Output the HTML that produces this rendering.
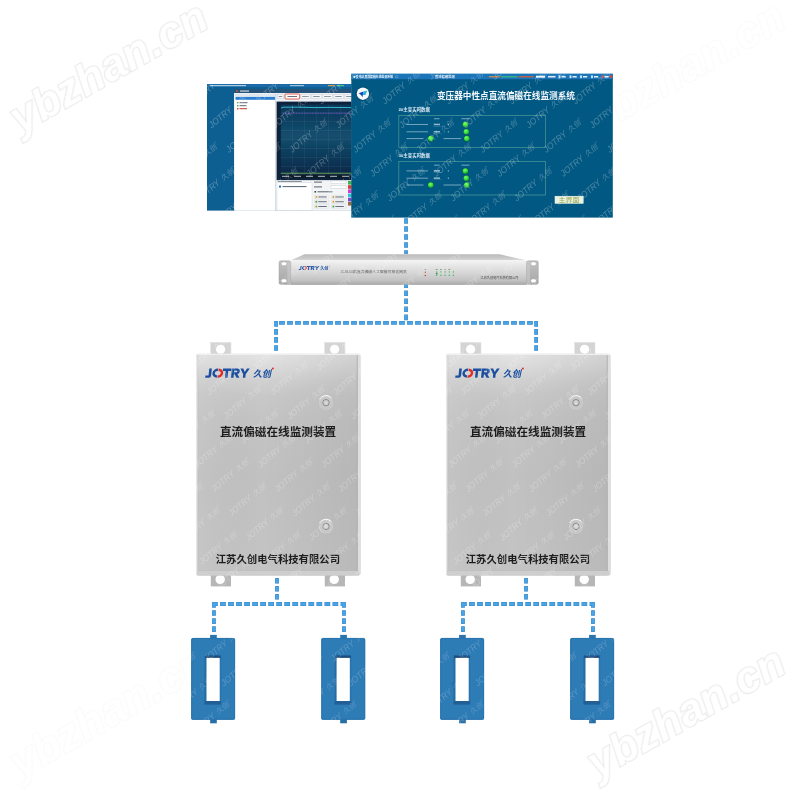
<!DOCTYPE html>
<html lang="zh-CN"><head><meta charset="utf-8"><title>直流偏磁在线监测系统</title>
<style>
html,body{margin:0;padding:0;background:#fff;}
body{width:800px;height:800px;overflow:hidden;font-family:"Liberation Sans","Noto Sans CJK SC",sans-serif;}
svg{display:block;font-family:"Liberation Sans","Noto Sans CJK SC",sans-serif;}
</style></head><body>
<svg width="800" height="800" viewBox="0 0 800 800">
<defs>

<linearGradient id="gCab" x1="0" y1="0" x2="0" y2="1">
  <stop offset="0" stop-color="#dedede"/>
  <stop offset="0.05" stop-color="#d8d8d8"/>
  <stop offset="0.12" stop-color="#cecece"/>
  <stop offset="0.19" stop-color="#c8c8c8"/>
  <stop offset="0.30" stop-color="#c4c4c4"/>
  <stop offset="0.55" stop-color="#c1c1c1"/>
  <stop offset="1" stop-color="#c4c4c4"/>
</linearGradient>
<linearGradient id="gCabSh" x1="0" y1="0" x2="1" y2="0">
  <stop offset="0" stop-color="#fff" stop-opacity="0.05"/>
  <stop offset="0.4" stop-color="#000" stop-opacity="0"/>
  <stop offset="1" stop-color="#000" stop-opacity="0.055"/>
</linearGradient>
<radialGradient id="gCabHi" cx="0.38" cy="0.0" r="0.6" gradientTransform="scale(1 .32)">
  <stop offset="0" stop-color="#fff" stop-opacity="0.18"/>
  <stop offset="1" stop-color="#fff" stop-opacity="0"/>
</radialGradient>
<linearGradient id="gRackF" x1="0" y1="0" x2="0" y2="1">
  <stop offset="0" stop-color="#f3f3f3"/>
  <stop offset="0.2" stop-color="#e7e7e7"/>
  <stop offset="0.5" stop-color="#d7d7d7"/>
  <stop offset="0.82" stop-color="#c3c3c3"/>
  <stop offset="1" stop-color="#a9a9a9"/>
</linearGradient>
<linearGradient id="gRackT" x1="0" y1="0" x2="0" y2="1">
  <stop offset="0" stop-color="#b9b9b9"/>
  <stop offset="1" stop-color="#d6d6d6"/>
</linearGradient>
<linearGradient id="gEar" x1="0" y1="0" x2="0" y2="1">
  <stop offset="0" stop-color="#c0c0c0"/>
  <stop offset="0.5" stop-color="#b4b4b4"/>
  <stop offset="1" stop-color="#a6a6a6"/>
</linearGradient>
<linearGradient id="gChart" x1="0" y1="0" x2="0" y2="1">
  <stop offset="0" stop-color="#0b3557"/>
  <stop offset="0.45" stop-color="#134e6e"/>
  <stop offset="1" stop-color="#0a2747"/>
</linearGradient>
<radialGradient id="gLed" cx="0.4" cy="0.35" r="0.7">
  <stop offset="0" stop-color="#7dff6a"/>
  <stop offset="0.6" stop-color="#2fd63a"/>
  <stop offset="1" stop-color="#18a030"/>
</radialGradient>
<radialGradient id="gLock" cx="0.5" cy="0.5" r="0.5">
  <stop offset="0" stop-color="#bdbdbd"/>
  <stop offset="0.5" stop-color="#d6d6d6"/>
  <stop offset="1" stop-color="#b4b4b4"/>
</radialGradient>
<filter id="softAll" x="0" y="0" width="800" height="800" filterUnits="userSpaceOnUse"><feGaussianBlur stdDeviation="0.42"/></filter>
<filter id="softLine" x="0" y="0" width="800" height="800" filterUnits="userSpaceOnUse"><feGaussianBlur stdDeviation="0.28"/></filter>
<filter id="soft" x="-5%" y="-5%" width="110%" height="110%"><feGaussianBlur stdDeviation="0.35"/></filter>
<filter id="soft2" x="-5%" y="-5%" width="110%" height="110%"><feGaussianBlur stdDeviation="0.55"/></filter>
<g id="logoL" transform="skewX(-6)">
  <path fill="#1b4fa0" d="M3.1 -9.2H5.7V-2.2Q5.7 0 3.6 0H0V-2.3H2.6Q3.1 -2.3 3.1 -2.9Z"/>
  <path d="M12.0 -8.0 A3.9 3.4 0 0 0 11.6 -1.2" fill="none" stroke="#1b4fa0" stroke-width="2.4"/>
  <path d="M12.6 -8.0 A3.9 3.4 0 0 1 12.2 -1.2" fill="none" stroke="#df2f2a" stroke-width="2.4"/>
  <path fill="#1b4fa0" d="M16.9 -9.2H25.3V-6.9H22.3V0H19.8V-6.9H16.9Z"/>
  <path fill="#1b4fa0" fill-rule="evenodd" d="M25.8 -9.2H31Q33.9 -9.2 33.9 -6.4Q33.9 -4.3 31.8 -3.7L34.2 0H31.3L29.3 -3.4H28.3V0H25.8ZM28.3 -7.1V-5.5H30.5Q31.4 -5.5 31.4 -6.3Q31.4 -7.1 30.5 -7.1Z"/>
  <path fill="#1b4fa0" d="M34.2 -9.2H37.1L38.9 -5.8L40.8 -9.2H43.6L40.1 -3.6V0H37.6V-3.6Z"/>
</g>

<g id="wm" transform="rotate(-40)"><text x="0" y="0" font-size="9.0" font-weight="400" font-style="italic" textLength="27.5" lengthAdjust="spacingAndGlyphs">JOTRY</text><text transform="translate(31.2 -0.2) skewX(-12)" x="0" y="0" font-size="7.2" font-family="'Liberation Sans','Noto Sans CJK SC',sans-serif" textLength="14.4" lengthAdjust="spacingAndGlyphs">久创</text><circle cx="47.4" cy="-5.8" r=".55"/></g>
<clipPath id="cpScr"><rect x="207" y="84" width="144.5" height="126.6"/><rect x="351.3" y="73.8" width="261.5" height="143.8"/></clipPath>
<clipPath id="cpSen"><rect x="191" y="634" width="44.5" height="90"/><rect x="321" y="634" width="44.5" height="90"/><rect x="440" y="634" width="44.5" height="90"/><rect x="570" y="634" width="44.5" height="90"/></clipPath>
<clipPath id="cpCab"><rect x="279" y="254" width="259.4" height="31"/><rect x="196" y="342" width="164.5" height="245"/><rect x="446" y="342" width="164.5" height="245"/></clipPath>
</defs>
<rect width="800" height="800" fill="#fff"/>
<g filter="url(#softAll)">
<text transform="translate(109 68) rotate(-29.5)" x="0" y="14" text-anchor="middle" font-size="44" font-weight="700" font-style="italic" fill="#fff" stroke="#eaeaea" stroke-width="2.2" paint-order="stroke" letter-spacing="0.5" filter="url(#soft2)">ybzhan.cn</text>
<text transform="translate(686.5 713) rotate(-29.5)" x="0" y="14" text-anchor="middle" font-size="44" font-weight="700" font-style="italic" fill="#fff" stroke="#eaeaea" stroke-width="2.2" paint-order="stroke" letter-spacing="0.5" filter="url(#soft2)">ybzhan.cn</text>
<text transform="translate(686.5 68) rotate(-29.5)" x="0" y="14" text-anchor="middle" font-size="44" font-weight="700" font-style="italic" fill="#fff" stroke="#fafafa" stroke-width="2.2" paint-order="stroke" letter-spacing="0.5" filter="url(#soft2)">ybzhan.cn</text>
<text transform="translate(109 713) rotate(-29.5)" x="0" y="14" text-anchor="middle" font-size="44" font-weight="700" font-style="italic" fill="#fff" stroke="#fafafa" stroke-width="2.2" paint-order="stroke" letter-spacing="0.5" filter="url(#soft2)">ybzhan.cn</text>
<g id="screenL">
<rect x="207.0" y="84.0" width="144.5" height="126.6" fill="#0f5f91"/>
<rect x="207.0" y="84.0" width="144.5" height="3.2" fill="#1a6ba6"/>
<rect x="210" y="85" width="36" height="1.2" fill="#cfe4f3" opacity=".8"/>
<rect x="290" y="85" width="14" height="1.2" fill="#cfe4f3" opacity=".7"/>
<rect x="328" y="85" width="7" height="1.2" fill="#e8a23a" opacity=".9"/><rect x="337" y="85" width="7" height="1.2" fill="#4fd07a" opacity=".9"/>
<rect x="234" y="89" width="117.5" height="121.6" fill="#eef1f4"/>
<rect x="234" y="89" width="117.5" height="4" fill="#28527a"/>
<rect x="236" y="90.3" width="1.6" height="1.6" fill="#e2552d"/><rect x="240" y="90.5" width="9" height="1.1" fill="#d9dde3"/>
<rect x="235" y="93.6" width="40.3" height="117.0" fill="#ffffff"/>
<rect x="235" y="93.6" width="40.3" height="2.6" fill="#dfe6ee"/>
<rect x="235.5" y="96.8" width="39.5" height="3" fill="#2b7fd0"/>
<rect x="237" y="102" width="1.4" height="1.4" fill="#3aa34a"/><rect x="239.5" y="102.2" width="8" height="1" fill="#667"/>
<rect x="237" y="105" width="1.4" height="1.4" fill="#3aa34a"/><rect x="239.5" y="105.2" width="7" height="1" fill="#667"/>
<rect x="237" y="108" width="1.4" height="1.4" fill="#d23a2e"/><rect x="239.5" y="108.2" width="7.5" height="1" fill="#c0392b"/>
<rect x="275.3" y="93.6" width="0.7" height="117.0" fill="#c9d1da"/>
<rect x="276" y="93.6" width="75.5" height="5.6" fill="#e4e8ee"/>
<rect x="277.5" y="94.6" width="6" height="3.8" fill="#f6f7f9" stroke="#b9c2cc" stroke-width=".3"/>
<rect x="278.7" y="96.1" width="3.5" height=".9" fill="#7b8794"/>
<rect x="285.5" y="94.6" width="9.5" height="3.8" fill="#f6f7f9" stroke="#b9c2cc" stroke-width=".3"/>
<rect x="286.7" y="96.1" width="6.5" height=".9" fill="#7b8794"/>
<rect x="301" y="94.6" width="9.5" height="3.8" fill="#f6f7f9" stroke="#b9c2cc" stroke-width=".3"/>
<rect x="302.2" y="96.1" width="6.5" height=".9" fill="#7b8794"/>
<rect x="312" y="94.6" width="9.5" height="3.8" fill="#f6f7f9" stroke="#b9c2cc" stroke-width=".3"/>
<rect x="313.2" y="96.1" width="6.5" height=".9" fill="#7b8794"/>
<rect x="323" y="94.6" width="9.5" height="3.8" fill="#f6f7f9" stroke="#b9c2cc" stroke-width=".3"/>
<rect x="324.2" y="96.1" width="6.5" height=".9" fill="#7b8794"/>
<rect x="334" y="94.6" width="9.5" height="3.8" fill="#f6f7f9" stroke="#b9c2cc" stroke-width=".3"/>
<rect x="335.2" y="96.1" width="6.5" height=".9" fill="#7b8794"/>
<rect x="345" y="94.6" width="9.5" height="3.8" fill="#f6f7f9" stroke="#b9c2cc" stroke-width=".3"/>
<rect x="346.2" y="96.1" width="6.5" height=".9" fill="#7b8794"/>
<rect x="285" y="94" width="14.6" height="5" rx="1" fill="#fff" stroke="#e03a2a" stroke-width=".8"/>
<rect x="287.5" y="96.1" width="9.5" height=".9" fill="#56616d"/>
<rect x="276.6" y="101.6" width="74.89999999999998" height="78.6" fill="#10243c"/>
<rect x="280.8" y="104.6" width="70.69999999999999" height="70" fill="url(#gChart)"/>
<rect x="280.8" y="112" width="70.69999999999999" height=".35" fill="#7fb0c8" opacity=".28"/>
<rect x="280.8" y="121" width="70.69999999999999" height=".35" fill="#7fb0c8" opacity=".28"/>
<rect x="280.8" y="130" width="70.69999999999999" height=".35" fill="#7fb0c8" opacity=".28"/>
<rect x="280.8" y="139" width="70.69999999999999" height=".35" fill="#7fb0c8" opacity=".28"/>
<rect x="280.8" y="148" width="70.69999999999999" height=".35" fill="#7fb0c8" opacity=".28"/>
<rect x="280.8" y="157" width="70.69999999999999" height=".35" fill="#7fb0c8" opacity=".28"/>
<rect x="280.8" y="166" width="70.69999999999999" height=".35" fill="#7fb0c8" opacity=".28"/>
<rect x="292" y="104.6" width=".35" height="70" fill="#7fb0c8" opacity=".25"/>
<rect x="304" y="104.6" width=".35" height="70" fill="#7fb0c8" opacity=".25"/>
<rect x="316" y="104.6" width=".35" height="70" fill="#7fb0c8" opacity=".25"/>
<rect x="328" y="104.6" width=".35" height="70" fill="#7fb0c8" opacity=".25"/>
<rect x="340" y="104.6" width=".35" height="70" fill="#7fb0c8" opacity=".25"/>
<path d="M281 108.2 L283 107.2 L300 107.2 L315 107.6 L330 107.4 L351.5 107.6" fill="none" stroke="#37c6d8" stroke-width=".9"/>
<path d="M283 113.3 H351.5" fill="none" stroke="#8e5bd6" stroke-width=".8" stroke-dasharray="1 .6"/>
<rect x="280.8" y="172.6" width="70.69999999999999" height="1.6" fill="#5b9a55" opacity=".75"/>
<rect x="280.8" y="174.6" width="70.69999999999999" height="3.6" fill="#0e1a2a"/>
<rect x="282" y="175.8" width="7" height="1.1" fill="#b9c6d2" opacity=".85"/>
<rect x="294" y="175.8" width="7" height="1.1" fill="#b9c6d2" opacity=".85"/>
<rect x="306" y="175.8" width="7" height="1.1" fill="#b9c6d2" opacity=".85"/>
<rect x="318" y="175.8" width="7" height="1.1" fill="#b9c6d2" opacity=".85"/>
<rect x="330" y="175.8" width="7" height="1.1" fill="#b9c6d2" opacity=".85"/>
<rect x="342" y="175.8" width="7" height="1.1" fill="#b9c6d2" opacity=".85"/>
<rect x="276.6" y="180.6" width="74.89999999999998" height="30.0" fill="#f2f4f6"/>
<rect x="277" y="182.8" width="35" height="27.400000000000006" fill="#fff" stroke="#c6ccd4" stroke-width=".4"/>
<rect x="277.6" y="181" width="24" height=".9" fill="#7c8794"/>
<rect x="279" y="185.6" width="2" height="2" fill="#2b6fb8"/><rect x="282.5" y="186.1" width="24" height="1" fill="#56616d"/>
<rect x="314" y="181.6" width="8" height="1" fill="#56616d"/><rect x="331" y="181" width="15" height="2.4" fill="#fff" stroke="#aab3bd" stroke-width=".3"/>
<rect x="314" y="186.4" width="8" height="1" fill="#56616d"/><rect x="331" y="185.8" width="15" height="2.4" fill="#fff" stroke="#aab3bd" stroke-width=".3"/>
<rect x="314.5" y="191" width="1.6" height="1.6" fill="#444"/><rect x="317.5" y="191.3" width="15" height="1" fill="#56616d"/>
<rect x="314.5" y="195.2" width="14.5" height="3.4" rx=".5" fill="#f3f4f5" stroke="#c4c9cf" stroke-width=".3"/>
<rect x="315.5" y="196.1" width="1.7" height="1.7" fill="#e0a020"/>
<rect x="318.3" y="196.5" width="8.5" height=".9" fill="#56616d"/>
<rect x="331.5" y="195.2" width="14.5" height="3.4" rx=".5" fill="#f3f4f5" stroke="#c4c9cf" stroke-width=".3"/>
<rect x="332.5" y="196.1" width="1.7" height="1.7" fill="#c8a030"/>
<rect x="335.3" y="196.5" width="8.5" height=".9" fill="#56616d"/>
<rect x="314.5" y="200" width="14.5" height="3.4" rx=".5" fill="#f3f4f5" stroke="#c4c9cf" stroke-width=".3"/>
<rect x="315.5" y="200.9" width="1.7" height="1.7" fill="#4a9a40"/>
<rect x="318.3" y="201.3" width="8.5" height=".9" fill="#56616d"/>
<rect x="331.5" y="200" width="14.5" height="3.4" rx=".5" fill="#f3f4f5" stroke="#c4c9cf" stroke-width=".3"/>
<rect x="332.5" y="200.9" width="1.7" height="1.7" fill="#e0a020"/>
<rect x="335.3" y="201.3" width="8.5" height=".9" fill="#56616d"/>
<rect x="314.5" y="204.8" width="14.5" height="3.4" rx=".5" fill="#f3f4f5" stroke="#c4c9cf" stroke-width=".3"/>
<rect x="315.5" y="205.70000000000002" width="1.7" height="1.7" fill="#88b030"/>
<rect x="318.3" y="206.10000000000002" width="8.5" height=".9" fill="#56616d"/>
<rect x="331.5" y="204.8" width="14.5" height="3.4" rx=".5" fill="#f3f4f5" stroke="#c4c9cf" stroke-width=".3"/>
<rect x="332.5" y="205.70000000000002" width="1.7" height="1.7" fill="#3aa34a"/>
<rect x="335.3" y="206.10000000000002" width="8.5" height=".9" fill="#56616d"/>
<rect x="348" y="181.0" width="3.5" height="3.6" fill="#3cb54a"/>
<rect x="348" y="185.2" width="3.5" height="3.6" fill="#d83a2e"/>
<rect x="348" y="189.4" width="3.5" height="3.6" fill="#d63ad0"/>
<rect x="348" y="193.6" width="3.5" height="3.6" fill="#2ec4d6"/>
<rect x="348" y="197.8" width="3.5" height="3.6" fill="#7a4ad0"/>
<rect x="348" y="202.0" width="3.5" height="3.6" fill="#9a6a3a"/>
</g>
<g id="screenR">
<rect x="351.3" y="73.8" width="261.49999999999994" height="143.8" fill="#045983"/>
<rect x="351.3" y="73.8" width="261.49999999999994" height="5.6" fill="#1c74b8"/>
<rect x="351.3" y="79.39999999999999" width="261.49999999999994" height=".5" fill="#0a4468" opacity=".5"/>
<circle cx="354.4" cy="76.8" r="1.1" fill="#dff"/>
<text x="355.8" y="77.9" font-size="2.86" font-weight="700" fill="#f4fafe" textLength="37.2" lengthAdjust="spacingAndGlyphs" font-family="'Liberation Sans','Noto Sans CJK SC',sans-serif">变电站直流偏磁在线监测系统</text>
<circle cx="396.6" cy="76.7" r="1.3" fill="none" stroke="#9fd0ee" stroke-width=".4"/>
<text x="435.0" y="78.1" font-size="3.3" font-weight="700" fill="#eaf4fb" textLength="19.8" lengthAdjust="spacingAndGlyphs" font-family="'Liberation Sans','Noto Sans CJK SC',sans-serif">直流偏磁监测</text>
<rect x="489" y="76.0" width="10.5" height="1.5" fill="#e08a3a" opacity=".85"/><rect x="500.5" y="76.0" width="17" height="1.5" fill="#3fbf78" opacity=".8"/><rect x="518.5" y="76.0" width="15" height="1.5" fill="#d2603a" opacity=".85"/>
<rect x="536" y="75.7" width="9" height="2" fill="#f3f8fc"/><rect x="548" y="75.9" width="7.5" height="1.6" fill="#dbeaf5"/>
<rect x="558.5" y="75.2" width="2" height="3" rx=".7" fill="#bfe6ff"/>
<rect x="561.5" y="76" width="4.2" height="1.5" fill="#e6f2fa"/>
<rect x="569.5" y="75.2" width="2" height="3" rx=".7" fill="#bfe6ff"/>
<rect x="572.5" y="76" width="4.2" height="1.5" fill="#e6f2fa"/>
<rect x="580" y="75.2" width="2" height="3" rx=".7" fill="#bfe6ff"/>
<rect x="583" y="76" width="4.2" height="1.5" fill="#e6f2fa"/>
<rect x="591" y="75.2" width="2" height="3" rx=".7" fill="#bfe6ff"/>
<rect x="594" y="76" width="4.2" height="1.5" fill="#e6f2fa"/>
<rect x="601.5" y="75.2" width="2" height="3" rx=".7" fill="#e25b4a"/>
<rect x="604.5" y="76" width="4.2" height="1.5" fill="#e6f2fa"/>
<rect x="609.8" y="75.3" width="2.4" height="2.6" fill="#d94a3a"/>
<circle cx="362.9" cy="93.8" r="7.0" fill="#063a5c" opacity=".55"/>
<circle cx="362.9" cy="93.7" r="6.2" fill="#f7fafc"/>
<path d="M358.7 93.2 L363.4 91.6 L362.5 97.2 L361.0 94.9 Z" fill="#1446b4"/><path d="M363.4 91.6 L367.2 90.4 L365.6 95.0 L362.8 95.0 Z" fill="#2fb2d6"/>
<text transform="translate(437.00 98.50) scale(1 1.12)" x="0" y="0" font-size="8.62" font-weight="700" fill="#f1f7fb" textLength="137.9" lengthAdjust="spacingAndGlyphs" font-family="'Liberation Sans','Noto Sans CJK SC',sans-serif">变压器中性点直流偏磁在线监测系统</text>
<text x="398.4" y="111.2" font-size="4.4" font-weight="700" fill="#dbeaf3" textLength="31.6" lengthAdjust="spacingAndGlyphs" font-family="'Liberation Sans','Noto Sans CJK SC',sans-serif">2#主变实时数据</text>
<text x="398.4" y="157.2" font-size="4.4" font-weight="700" fill="#dbeaf3" textLength="31.6" lengthAdjust="spacingAndGlyphs" font-family="'Liberation Sans','Noto Sans CJK SC',sans-serif">3#主变实时数据</text>
<rect x="398.8" y="115.6" width="146.8" height="31.8" fill="none" stroke="#4b9a96" stroke-width=".7"/>
<rect x="398.8" y="161.4" width="146.8" height="33.6" fill="none" stroke="#4b9a96" stroke-width=".7"/>
<g opacity=".6"><rect x="434" y="118.3" width="5.5" height=".9" fill="#d5e6f0"/><rect x="461.5" y="118.3" width="8" height=".9" fill="#d5e6f0"/>
<rect x="406.5" y="124.05" width="21.5" height=".9" fill="#cfe2ee"/>
<rect x="433.8" y="123.7" width="6.2" height="1.5" fill="#eef6fb"/><rect x="433.5" y="126.0" width="8" height=".3" fill="#a8c8da"/>
<rect x="447.8" y="123.9" width="1.2" height="1.2" fill="#dcebf4"/>
<rect x="406.5" y="131.35" width="21.5" height=".9" fill="#cfe2ee"/>
<rect x="433.8" y="130.99999999999997" width="6.2" height="1.5" fill="#eef6fb"/><rect x="433.5" y="133.29999999999998" width="8" height=".3" fill="#a8c8da"/>
<rect x="447.8" y="131.2" width="1.2" height="1.2" fill="#dcebf4"/>
<rect x="406.5" y="138.15" width="17" height=".9" fill="#cfe2ee"/>
<rect x="443.5" y="138.15" width="17.5" height=".9" fill="#cfe2ee"/></g>
<circle cx="465.4" cy="124.5" r="3.25" fill="#0d4a3a" opacity=".55"/><circle cx="465.4" cy="124.5" r="2.75" fill="url(#gLed)"/>
<circle cx="466.29999999999995" cy="131.79999999999998" r="3.25" fill="#0d4a3a" opacity=".55"/><circle cx="466.29999999999995" cy="131.79999999999998" r="2.75" fill="url(#gLed)"/>
<circle cx="430.8" cy="138.6" r="3.25" fill="#0d4a3a" opacity=".55"/><circle cx="430.8" cy="138.6" r="2.75" fill="url(#gLed)"/>
<circle cx="466.8" cy="138.6" r="3.25" fill="#0d4a3a" opacity=".55"/><circle cx="466.8" cy="138.6" r="2.75" fill="url(#gLed)"/>
<g opacity=".6"><rect x="434" y="164.7" width="5.5" height=".9" fill="#d5e6f0"/><rect x="461.5" y="164.7" width="8" height=".9" fill="#d5e6f0"/>
<rect x="406.5" y="170.45000000000002" width="21.5" height=".9" fill="#cfe2ee"/>
<rect x="433.8" y="170.1" width="6.2" height="1.5" fill="#eef6fb"/><rect x="433.5" y="172.4" width="8" height=".3" fill="#a8c8da"/>
<rect x="447.8" y="170.3" width="1.2" height="1.2" fill="#dcebf4"/>
<rect x="406.5" y="177.75" width="21.5" height=".9" fill="#cfe2ee"/>
<rect x="433.8" y="177.39999999999998" width="6.2" height="1.5" fill="#eef6fb"/><rect x="433.5" y="179.7" width="8" height=".3" fill="#a8c8da"/>
<rect x="447.8" y="177.6" width="1.2" height="1.2" fill="#dcebf4"/>
<rect x="406.5" y="184.55" width="17" height=".9" fill="#cfe2ee"/>
<rect x="443.5" y="184.55" width="17.5" height=".9" fill="#cfe2ee"/></g>
<circle cx="465.4" cy="170.9" r="3.25" fill="#0d4a3a" opacity=".55"/><circle cx="465.4" cy="170.9" r="2.75" fill="url(#gLed)"/>
<circle cx="466.29999999999995" cy="178.2" r="3.25" fill="#0d4a3a" opacity=".55"/><circle cx="466.29999999999995" cy="178.2" r="2.75" fill="url(#gLed)"/>
<circle cx="430.8" cy="185.0" r="3.25" fill="#0d4a3a" opacity=".55"/><circle cx="430.8" cy="185.0" r="2.75" fill="url(#gLed)"/>
<circle cx="466.8" cy="185.0" r="3.25" fill="#0d4a3a" opacity=".55"/><circle cx="466.8" cy="185.0" r="2.75" fill="url(#gLed)"/>
<rect x="555" y="196.2" width="28.2" height="7.2" fill="#e9f1df" stroke="#f8fbf4" stroke-width=".5"/>
<text x="558.6" y="202.3" font-size="6.2" fill="#96a850" textLength="21.0" lengthAdjust="spacingAndGlyphs" font-family="'Liberation Sans','Noto Sans CJK SC',sans-serif">主界面</text>
</g>
<g id="rack">
<path d="M304.5 254.2 L499.5 254.2 L526.8 260.6 L290.4 260.6 Z" fill="url(#gRackT)"/>
<rect x="290.4" y="260.4" width="236.4" height="24.2" fill="url(#gRackF)"/>
<rect x="290.4" y="260.4" width="236.4" height=".8" fill="#f4f4f4"/>
<rect x="290.4" y="283.8" width="236.4" height="0.9" fill="#a8a8a8"/>
<rect x="279.0" y="260.8" width="11.7" height="23.6" rx="1.7" fill="url(#gEar)" stroke="#a4a4a4" stroke-width=".5"/>
<rect x="287.2" y="261.4" width="3.2" height="22.4" fill="#cccccc" opacity=".6"/>
<ellipse cx="284.0" cy="263.75" rx="2.85" ry="2.0" fill="#fff" stroke="#9e9e9e" stroke-width=".45"/>
<ellipse cx="284.0" cy="280.8" rx="2.85" ry="2.0" fill="#fff" stroke="#9e9e9e" stroke-width=".45"/>
<rect x="526.6" y="260.8" width="11.7" height="23.6" rx="1.7" fill="url(#gEar)" stroke="#a4a4a4" stroke-width=".5"/>
<rect x="526.9" y="261.4" width="3.2" height="22.4" fill="#cccccc" opacity=".6"/>
<ellipse cx="533.5" cy="263.75" rx="2.85" ry="2.0" fill="#fff" stroke="#9e9e9e" stroke-width=".45"/>
<ellipse cx="533.5" cy="280.8" rx="2.85" ry="2.0" fill="#fff" stroke="#9e9e9e" stroke-width=".45"/>
<use href="#logoL" transform="translate(298.6 269.9) scale(0.465 0.42)" opacity=".9"/>
<text x="320.2" y="269.7" font-size="4.1" font-weight="700" fill="#1f57a8" textLength="8.2" lengthAdjust="spacingAndGlyphs" font-family="'Liberation Sans','Noto Sans CJK SC',sans-serif">久创</text>
<circle cx="329.4" cy="266.1" r=".45" fill="#df2f2a"/>
<text x="340.8" y="273.3" font-size="2.6" fill="#666" letter-spacing=".1">JC-ML1000</text>
<text x="353.2" y="273.35" font-size="3.0" fill="#5a5a5a" textLength="53.7" lengthAdjust="spacingAndGlyphs" font-family="'Liberation Sans','Noto Sans CJK SC',sans-serif">抗直流偏磁人工智能可视化网关</text>
<circle cx="425.3" cy="272.3" r=".75" fill="#d8402e"/>
<circle cx="425.3" cy="275.6" r=".75" fill="#d8402e"/>
<rect x="424.6" y="269.3" width="1.6" height=".7" fill="#777"/>
<rect x="435.70000000000005" y="269.2" width="1.9" height=".7" fill="#6a8a6a"/>
<circle cx="436.6" cy="271.9" r=".7" fill="#3bb85a"/>
<circle cx="436.6" cy="275.3" r=".7" fill="#3bb85a"/>
<rect x="440.0" y="269.2" width="1.9" height=".7" fill="#6a8a6a"/>
<circle cx="440.9" cy="271.9" r=".7" fill="#3bb85a"/>
<circle cx="440.9" cy="275.3" r=".7" fill="#3bb85a"/>
<rect x="444.20000000000005" y="269.2" width="1.9" height=".7" fill="#6a8a6a"/>
<circle cx="445.1" cy="271.9" r=".7" fill="#3bb85a"/>
<circle cx="445.1" cy="275.3" r=".7" fill="#3bb85a"/>
<rect x="448.3" y="269.2" width="1.9" height=".7" fill="#6a8a6a"/>
<circle cx="449.2" cy="271.9" r=".7" fill="#3bb85a"/>
<circle cx="449.2" cy="275.3" r=".7" fill="#3bb85a"/>
<circle cx="453.4" cy="271.9" r=".7" fill="#3bb85a"/>
<circle cx="453.4" cy="275.3" r=".7" fill="#3bb85a"/>
<rect x="435.9" y="272.9" width="1.6" height="1.4" fill="#2f8a44"/>
<text x="480.6" y="278.6" font-size="3.15" fill="#444" textLength="37.8" lengthAdjust="spacingAndGlyphs" font-family="'Liberation Sans','Noto Sans CJK SC',sans-serif">江苏久创电气科技有限公司</text>
</g>
<g>
<rect x="210.6" y="342.3" width="20.4" height="13" fill="#d4d4d4" stroke="#e4e4e4" stroke-width=".6"/>
<circle cx="220.6" cy="349.3" r="4.6" fill="#fff"/>
<rect x="210.79999999999998" y="574" width="20.2" height="12.4" fill="#b6b6b6"/>
<circle cx="220.2" cy="579.4" r="4.7" fill="#fff"/>
<rect x="324.6" y="342.3" width="20.4" height="13" fill="#d4d4d4" stroke="#e4e4e4" stroke-width=".6"/>
<circle cx="334.6" cy="349.3" r="4.6" fill="#fff"/>
<rect x="324.8" y="574" width="20.2" height="12.4" fill="#b6b6b6"/>
<circle cx="334.20000000000005" cy="579.4" r="4.7" fill="#fff"/>
<rect x="196.0" y="353.7" width="164.39999999999998" height="221.7" rx="2" fill="url(#gCab)"/>
<rect x="196.0" y="353.7" width="164.39999999999998" height="221.7" rx="2" fill="url(#gCabHi)"/>
<rect x="196.0" y="353.7" width="164.39999999999998" height="221.7" rx="2" fill="url(#gCabSh)"/>
<rect x="196.0" y="354.7" width="1.6" height="219.7" fill="#e9e9e9" opacity=".9"/>
<rect x="197.6" y="354.7" width=".7" height="219.7" fill="#b5b5b5" opacity=".55"/>
<rect x="357.4" y="355.2" width="3.0" height="219.2" fill="#dedede"/>
<rect x="356.79999999999995" y="355.2" width=".8" height="219.2" fill="#a4a4a4" opacity=".9"/>
<rect x="196.0" y="353.7" width="164.39999999999998" height="1.3" rx=".6" fill="#efefef"/>
<rect x="197.0" y="570.4" width="162.39999999999998" height=".7" fill="#b4b4b4" opacity=".35"/>
<rect x="197.0" y="570.9" width="162.39999999999998" height="4.5" rx="1" fill="#cecece"/>
<circle cx="326.0" cy="402.7" r="7.5" fill="#cdcdcd" stroke="#b4b4b4" stroke-width=".6" stroke-opacity=".7"/>
<circle cx="326.0" cy="403.0" r="5.4" fill="#c9c9c9" stroke="#bcbcbc" stroke-width=".5"/>
<path d="M319.80 399.00 A7.1 7.1 0 0 1 331.30 397.80" fill="none" stroke="#fbfbfb" stroke-width="1.0" stroke-linecap="round"/>
<circle cx="326.0" cy="402.7" r="3.2" fill="#cfcfcf" stroke="#878787" stroke-width=".95"/>
<circle cx="326.0" cy="402.7" r="1.3" fill="#d9d9d9"/>
<circle cx="326.0" cy="526.4" r="7.5" fill="#cdcdcd" stroke="#b4b4b4" stroke-width=".6" stroke-opacity=".7"/>
<circle cx="326.0" cy="526.6999999999999" r="5.4" fill="#c9c9c9" stroke="#bcbcbc" stroke-width=".5"/>
<path d="M319.80 522.70 A7.1 7.1 0 0 1 331.30 521.50" fill="none" stroke="#fbfbfb" stroke-width="1.0" stroke-linecap="round"/>
<circle cx="326.0" cy="526.4" r="3.2" fill="#cfcfcf" stroke="#878787" stroke-width=".95"/>
<circle cx="326.0" cy="526.4" r="1.3" fill="#d9d9d9"/>
<use href="#logoL" x="205.2" y="377.8"/>
<text transform="translate(253.00 377.2) skewX(-12)" x="0" y="0" font-size="9.4" font-weight="700" fill="#1b4fa0" textLength="18.2" lengthAdjust="spacingAndGlyphs" font-family="'Liberation Sans','Noto Sans CJK SC',sans-serif">久创</text>
<circle cx="272.9" cy="368.4" r="1.0" fill="#df2f2a"/>
<text x="220.0" y="435.6" font-size="11.62" font-weight="700" fill="#1c1c1c" textLength="116.2" lengthAdjust="spacingAndGlyphs" font-family="'Liberation Sans','Noto Sans CJK SC',sans-serif">直流偏磁在线监测装置</text>
<text x="215.74" y="563.4" font-size="10.36" font-weight="700" fill="#1c1c1c" textLength="124.3" lengthAdjust="spacingAndGlyphs" font-family="'Liberation Sans','Noto Sans CJK SC',sans-serif">江苏久创电气科技有限公司</text>
</g>
<g>
<rect x="460.6" y="342.3" width="20.4" height="13" fill="#d4d4d4" stroke="#e4e4e4" stroke-width=".6"/>
<circle cx="470.6" cy="349.3" r="4.6" fill="#fff"/>
<rect x="460.8" y="574" width="20.2" height="12.4" fill="#b6b6b6"/>
<circle cx="470.20000000000005" cy="579.4" r="4.7" fill="#fff"/>
<rect x="574.6" y="342.3" width="20.4" height="13" fill="#d4d4d4" stroke="#e4e4e4" stroke-width=".6"/>
<circle cx="584.6" cy="349.3" r="4.6" fill="#fff"/>
<rect x="574.8000000000001" y="574" width="20.2" height="12.4" fill="#b6b6b6"/>
<circle cx="584.2" cy="579.4" r="4.7" fill="#fff"/>
<rect x="446.0" y="353.7" width="164.39999999999998" height="221.7" rx="2" fill="url(#gCab)"/>
<rect x="446.0" y="353.7" width="164.39999999999998" height="221.7" rx="2" fill="url(#gCabHi)"/>
<rect x="446.0" y="353.7" width="164.39999999999998" height="221.7" rx="2" fill="url(#gCabSh)"/>
<rect x="446.0" y="354.7" width="1.6" height="219.7" fill="#e9e9e9" opacity=".9"/>
<rect x="447.6" y="354.7" width=".7" height="219.7" fill="#b5b5b5" opacity=".55"/>
<rect x="607.4" y="355.2" width="3.0" height="219.2" fill="#dedede"/>
<rect x="606.8" y="355.2" width=".8" height="219.2" fill="#a4a4a4" opacity=".9"/>
<rect x="446.0" y="353.7" width="164.39999999999998" height="1.3" rx=".6" fill="#efefef"/>
<rect x="447.0" y="570.4" width="162.39999999999998" height=".7" fill="#b4b4b4" opacity=".35"/>
<rect x="447.0" y="570.9" width="162.39999999999998" height="4.5" rx="1" fill="#cecece"/>
<circle cx="576.0" cy="402.7" r="7.5" fill="#cdcdcd" stroke="#b4b4b4" stroke-width=".6" stroke-opacity=".7"/>
<circle cx="576.0" cy="403.0" r="5.4" fill="#c9c9c9" stroke="#bcbcbc" stroke-width=".5"/>
<path d="M569.80 399.00 A7.1 7.1 0 0 1 581.30 397.80" fill="none" stroke="#fbfbfb" stroke-width="1.0" stroke-linecap="round"/>
<circle cx="576.0" cy="402.7" r="3.2" fill="#cfcfcf" stroke="#878787" stroke-width=".95"/>
<circle cx="576.0" cy="402.7" r="1.3" fill="#d9d9d9"/>
<circle cx="576.0" cy="526.4" r="7.5" fill="#cdcdcd" stroke="#b4b4b4" stroke-width=".6" stroke-opacity=".7"/>
<circle cx="576.0" cy="526.6999999999999" r="5.4" fill="#c9c9c9" stroke="#bcbcbc" stroke-width=".5"/>
<path d="M569.80 522.70 A7.1 7.1 0 0 1 581.30 521.50" fill="none" stroke="#fbfbfb" stroke-width="1.0" stroke-linecap="round"/>
<circle cx="576.0" cy="526.4" r="3.2" fill="#cfcfcf" stroke="#878787" stroke-width=".95"/>
<circle cx="576.0" cy="526.4" r="1.3" fill="#d9d9d9"/>
<use href="#logoL" x="455.2" y="377.8"/>
<text transform="translate(503.00 377.2) skewX(-12)" x="0" y="0" font-size="9.4" font-weight="700" fill="#1b4fa0" textLength="18.2" lengthAdjust="spacingAndGlyphs" font-family="'Liberation Sans','Noto Sans CJK SC',sans-serif">久创</text>
<circle cx="522.9" cy="368.4" r="1.0" fill="#df2f2a"/>
<text x="470.0" y="435.6" font-size="11.62" font-weight="700" fill="#1c1c1c" textLength="116.2" lengthAdjust="spacingAndGlyphs" font-family="'Liberation Sans','Noto Sans CJK SC',sans-serif">直流偏磁在线监测装置</text>
<text x="465.74" y="563.4" font-size="10.36" font-weight="700" fill="#1c1c1c" textLength="124.3" lengthAdjust="spacingAndGlyphs" font-family="'Liberation Sans','Noto Sans CJK SC',sans-serif">江苏久创电气科技有限公司</text>
</g>
<g>
<rect x="210.1" y="634.9" width="6.7" height="4" fill="#2a74ae"/>
<rect x="210.1" y="718.8" width="6.7" height="4.5" fill="#286fa8"/>
<rect x="191.2" y="638.0" width="43.85" height="81.79999999999995" rx="1.6" fill="#2d7bb6"/>
<rect x="191.6" y="638.4" width="43.050000000000004" height="80.99999999999996" rx="1.4" fill="none" stroke="#2a72ab" stroke-width=".8"/>
<rect x="204.6" y="655.2" width="16.6" height="49.2" rx=".8" fill="#2a74ae"/>
<rect x="204.6" y="655.2" width="2.2" height="49.2" fill="#276ca4"/>
<rect x="205.39999999999998" y="655.4" width="15.2" height="2.8" rx=".5" fill="#1a4e7e"/>
<rect x="204.6" y="700.9" width="16.6" height="3.5" rx=".6" fill="#235f94"/>
<rect x="206.5" y="657.9" width="13.2" height="43.1" fill="#ffffff"/>
<rect x="202.6" y="682.0" width="2.2" height="3.6" fill="#2a6fa8"/>
</g>
<g>
<rect x="340.2" y="634.9" width="6.7" height="4" fill="#2a74ae"/>
<rect x="340.2" y="718.8" width="6.7" height="4.5" fill="#286fa8"/>
<rect x="321.3" y="638.0" width="43.85" height="81.79999999999995" rx="1.6" fill="#2d7bb6"/>
<rect x="321.7" y="638.4" width="43.050000000000004" height="80.99999999999996" rx="1.4" fill="none" stroke="#2a72ab" stroke-width=".8"/>
<rect x="334.7" y="655.2" width="16.6" height="49.2" rx=".8" fill="#2a74ae"/>
<rect x="334.7" y="655.2" width="2.2" height="49.2" fill="#276ca4"/>
<rect x="335.5" y="655.4" width="15.2" height="2.8" rx=".5" fill="#1a4e7e"/>
<rect x="334.7" y="700.9" width="16.6" height="3.5" rx=".6" fill="#235f94"/>
<rect x="336.6" y="657.9" width="13.2" height="43.1" fill="#ffffff"/>
<rect x="332.7" y="682.0" width="2.2" height="3.6" fill="#2a6fa8"/>
</g>
<g>
<rect x="459.09999999999997" y="634.9" width="6.7" height="4" fill="#2a74ae"/>
<rect x="459.09999999999997" y="718.8" width="6.7" height="4.5" fill="#286fa8"/>
<rect x="440.2" y="638.0" width="43.85" height="81.79999999999995" rx="1.6" fill="#2d7bb6"/>
<rect x="440.59999999999997" y="638.4" width="43.050000000000004" height="80.99999999999996" rx="1.4" fill="none" stroke="#2a72ab" stroke-width=".8"/>
<rect x="453.59999999999997" y="655.2" width="16.6" height="49.2" rx=".8" fill="#2a74ae"/>
<rect x="453.59999999999997" y="655.2" width="2.2" height="49.2" fill="#276ca4"/>
<rect x="454.4" y="655.4" width="15.2" height="2.8" rx=".5" fill="#1a4e7e"/>
<rect x="453.59999999999997" y="700.9" width="16.6" height="3.5" rx=".6" fill="#235f94"/>
<rect x="455.5" y="657.9" width="13.2" height="43.1" fill="#ffffff"/>
<rect x="451.59999999999997" y="682.0" width="2.2" height="3.6" fill="#2a6fa8"/>
</g>
<g>
<rect x="589.1" y="634.9" width="6.7" height="4" fill="#2a74ae"/>
<rect x="589.1" y="718.8" width="6.7" height="4.5" fill="#286fa8"/>
<rect x="570.2" y="638.0" width="43.85" height="81.79999999999995" rx="1.6" fill="#2d7bb6"/>
<rect x="570.6" y="638.4" width="43.050000000000004" height="80.99999999999996" rx="1.4" fill="none" stroke="#2a72ab" stroke-width=".8"/>
<rect x="583.6" y="655.2" width="16.6" height="49.2" rx=".8" fill="#2a74ae"/>
<rect x="583.6" y="655.2" width="2.2" height="49.2" fill="#276ca4"/>
<rect x="584.4000000000001" y="655.4" width="15.2" height="2.8" rx=".5" fill="#1a4e7e"/>
<rect x="583.6" y="700.9" width="16.6" height="3.5" rx=".6" fill="#235f94"/>
<rect x="585.5" y="657.9" width="13.2" height="43.1" fill="#ffffff"/>
<rect x="581.6" y="682.0" width="2.2" height="3.6" fill="#2a6fa8"/>
</g>
<g fill="#fff" opacity="0.27" clip-path="url(#cpScr)" filter="url(#soft)"><use href="#wm" x="177.6" y="80.1"/><use href="#wm" x="241.1" y="80.1"/><use href="#wm" x="304.6" y="80.1"/><use href="#wm" x="368.1" y="80.1"/><use href="#wm" x="431.6" y="80.1"/><use href="#wm" x="495.1" y="80.1"/><use href="#wm" x="558.6" y="80.1"/><use href="#wm" x="194.7" y="104.4"/><use href="#wm" x="258.2" y="104.4"/><use href="#wm" x="321.7" y="104.4"/><use href="#wm" x="385.2" y="104.4"/><use href="#wm" x="448.7" y="104.4"/><use href="#wm" x="512.2" y="104.4"/><use href="#wm" x="575.7" y="104.4"/><use href="#wm" x="211.8" y="128.6"/><use href="#wm" x="275.3" y="128.6"/><use href="#wm" x="338.8" y="128.6"/><use href="#wm" x="402.3" y="128.6"/><use href="#wm" x="465.8" y="128.6"/><use href="#wm" x="529.3" y="128.6"/><use href="#wm" x="592.8" y="128.6"/><use href="#wm" x="228.9" y="152.9"/><use href="#wm" x="292.4" y="152.9"/><use href="#wm" x="355.9" y="152.9"/><use href="#wm" x="419.4" y="152.9"/><use href="#wm" x="482.9" y="152.9"/><use href="#wm" x="546.4" y="152.9"/><use href="#wm" x="609.9" y="152.9"/><use href="#wm" x="182.5" y="177.1"/><use href="#wm" x="246.0" y="177.1"/><use href="#wm" x="309.5" y="177.1"/><use href="#wm" x="373.0" y="177.1"/><use href="#wm" x="436.5" y="177.1"/><use href="#wm" x="500.0" y="177.1"/><use href="#wm" x="563.5" y="177.1"/><use href="#wm" x="199.6" y="201.4"/><use href="#wm" x="263.1" y="201.4"/><use href="#wm" x="326.6" y="201.4"/><use href="#wm" x="390.1" y="201.4"/><use href="#wm" x="453.6" y="201.4"/><use href="#wm" x="517.1" y="201.4"/><use href="#wm" x="580.6" y="201.4"/><use href="#wm" x="216.7" y="225.6"/><use href="#wm" x="280.2" y="225.6"/><use href="#wm" x="343.7" y="225.6"/><use href="#wm" x="407.2" y="225.6"/><use href="#wm" x="470.7" y="225.6"/><use href="#wm" x="534.2" y="225.6"/><use href="#wm" x="597.7" y="225.6"/><use href="#wm" x="170.3" y="249.9"/><use href="#wm" x="233.8" y="249.9"/><use href="#wm" x="297.3" y="249.9"/><use href="#wm" x="360.8" y="249.9"/><use href="#wm" x="424.3" y="249.9"/><use href="#wm" x="487.8" y="249.9"/><use href="#wm" x="551.3" y="249.9"/></g>
<g fill="#fff" opacity="0.25" clip-path="url(#cpCab)" filter="url(#soft)"><use href="#wm" x="250.9" y="274.1"/><use href="#wm" x="314.4" y="274.1"/><use href="#wm" x="377.9" y="274.1"/><use href="#wm" x="441.4" y="274.1"/><use href="#wm" x="504.9" y="274.1"/><use href="#wm" x="268.0" y="298.4"/><use href="#wm" x="331.5" y="298.4"/><use href="#wm" x="395.0" y="298.4"/><use href="#wm" x="458.5" y="298.4"/><use href="#wm" x="522.0" y="298.4"/><use href="#wm" x="175.2" y="346.9"/><use href="#wm" x="238.7" y="346.9"/><use href="#wm" x="302.2" y="346.9"/><use href="#wm" x="365.7" y="346.9"/><use href="#wm" x="429.2" y="346.9"/><use href="#wm" x="492.7" y="346.9"/><use href="#wm" x="556.2" y="346.9"/><use href="#wm" x="192.3" y="371.1"/><use href="#wm" x="255.8" y="371.1"/><use href="#wm" x="319.3" y="371.1"/><use href="#wm" x="382.8" y="371.1"/><use href="#wm" x="446.3" y="371.1"/><use href="#wm" x="509.8" y="371.1"/><use href="#wm" x="573.3" y="371.1"/><use href="#wm" x="209.4" y="395.4"/><use href="#wm" x="272.9" y="395.4"/><use href="#wm" x="336.4" y="395.4"/><use href="#wm" x="399.9" y="395.4"/><use href="#wm" x="463.4" y="395.4"/><use href="#wm" x="526.9" y="395.4"/><use href="#wm" x="590.4" y="395.4"/><use href="#wm" x="163.0" y="419.6"/><use href="#wm" x="226.5" y="419.6"/><use href="#wm" x="290.0" y="419.6"/><use href="#wm" x="353.5" y="419.6"/><use href="#wm" x="417.0" y="419.6"/><use href="#wm" x="480.5" y="419.6"/><use href="#wm" x="544.0" y="419.6"/><use href="#wm" x="607.5" y="419.6"/><use href="#wm" x="180.1" y="443.9"/><use href="#wm" x="243.6" y="443.9"/><use href="#wm" x="307.1" y="443.9"/><use href="#wm" x="370.6" y="443.9"/><use href="#wm" x="434.1" y="443.9"/><use href="#wm" x="497.6" y="443.9"/><use href="#wm" x="561.1" y="443.9"/><use href="#wm" x="197.2" y="468.1"/><use href="#wm" x="260.7" y="468.1"/><use href="#wm" x="324.2" y="468.1"/><use href="#wm" x="387.7" y="468.1"/><use href="#wm" x="451.2" y="468.1"/><use href="#wm" x="514.7" y="468.1"/><use href="#wm" x="578.2" y="468.1"/><use href="#wm" x="214.3" y="492.4"/><use href="#wm" x="277.8" y="492.4"/><use href="#wm" x="341.3" y="492.4"/><use href="#wm" x="404.8" y="492.4"/><use href="#wm" x="468.3" y="492.4"/><use href="#wm" x="531.8" y="492.4"/><use href="#wm" x="595.3" y="492.4"/><use href="#wm" x="167.9" y="516.6"/><use href="#wm" x="231.4" y="516.6"/><use href="#wm" x="294.9" y="516.6"/><use href="#wm" x="358.4" y="516.6"/><use href="#wm" x="421.9" y="516.6"/><use href="#wm" x="485.4" y="516.6"/><use href="#wm" x="548.9" y="516.6"/><use href="#wm" x="185.0" y="540.9"/><use href="#wm" x="248.5" y="540.9"/><use href="#wm" x="312.0" y="540.9"/><use href="#wm" x="375.5" y="540.9"/><use href="#wm" x="439.0" y="540.9"/><use href="#wm" x="502.5" y="540.9"/><use href="#wm" x="566.0" y="540.9"/><use href="#wm" x="202.1" y="565.1"/><use href="#wm" x="265.6" y="565.1"/><use href="#wm" x="329.1" y="565.1"/><use href="#wm" x="392.6" y="565.1"/><use href="#wm" x="456.1" y="565.1"/><use href="#wm" x="519.6" y="565.1"/><use href="#wm" x="583.1" y="565.1"/><use href="#wm" x="219.2" y="589.4"/><use href="#wm" x="282.7" y="589.4"/><use href="#wm" x="346.2" y="589.4"/><use href="#wm" x="409.7" y="589.4"/><use href="#wm" x="473.2" y="589.4"/><use href="#wm" x="536.7" y="589.4"/><use href="#wm" x="600.2" y="589.4"/><use href="#wm" x="172.8" y="613.6"/><use href="#wm" x="236.3" y="613.6"/><use href="#wm" x="299.8" y="613.6"/><use href="#wm" x="363.3" y="613.6"/><use href="#wm" x="426.8" y="613.6"/><use href="#wm" x="490.3" y="613.6"/><use href="#wm" x="553.8" y="613.6"/></g>
<g fill="#fff" opacity="0.2" clip-path="url(#cpSen)" filter="url(#soft)"><use href="#wm" x="189.9" y="637.9"/><use href="#wm" x="253.4" y="637.9"/><use href="#wm" x="316.9" y="637.9"/><use href="#wm" x="380.4" y="637.9"/><use href="#wm" x="443.9" y="637.9"/><use href="#wm" x="507.4" y="637.9"/><use href="#wm" x="570.9" y="637.9"/><use href="#wm" x="207.0" y="662.1"/><use href="#wm" x="270.5" y="662.1"/><use href="#wm" x="334.0" y="662.1"/><use href="#wm" x="397.5" y="662.1"/><use href="#wm" x="461.0" y="662.1"/><use href="#wm" x="524.5" y="662.1"/><use href="#wm" x="588.0" y="662.1"/><use href="#wm" x="160.6" y="686.4"/><use href="#wm" x="224.1" y="686.4"/><use href="#wm" x="287.6" y="686.4"/><use href="#wm" x="351.1" y="686.4"/><use href="#wm" x="414.6" y="686.4"/><use href="#wm" x="478.1" y="686.4"/><use href="#wm" x="541.6" y="686.4"/><use href="#wm" x="605.1" y="686.4"/><use href="#wm" x="177.7" y="710.6"/><use href="#wm" x="241.2" y="710.6"/><use href="#wm" x="304.7" y="710.6"/><use href="#wm" x="368.2" y="710.6"/><use href="#wm" x="431.7" y="710.6"/><use href="#wm" x="495.2" y="710.6"/><use href="#wm" x="558.7" y="710.6"/><use href="#wm" x="194.8" y="734.9"/><use href="#wm" x="258.3" y="734.9"/><use href="#wm" x="321.8" y="734.9"/><use href="#wm" x="385.3" y="734.9"/><use href="#wm" x="448.8" y="734.9"/><use href="#wm" x="512.3" y="734.9"/><use href="#wm" x="575.8" y="734.9"/></g>
</g>
<g filter="url(#softLine)"><g stroke="#3b8aca">
<line x1="406.05" y1="218.17" x2="406.05" y2="254.00" stroke-width="3.8" stroke-dasharray="5.6 2.43" stroke-dashoffset="0"/>
<line x1="406.05" y1="284.70" x2="406.05" y2="320.20" stroke-width="3.8" stroke-dasharray="5.6 2.43" stroke-dashoffset="2.29"/>
<line x1="279.10" y1="322.90" x2="532.85" y2="322.90" stroke-width="3.8" stroke-dasharray="5.72 2.28" stroke-dashoffset="0"/>
<line x1="276.05" y1="321.00" x2="276.05" y2="351.00" stroke-width="3.8" stroke-dasharray="5.7 2.35" stroke-dashoffset="0"/>
<line x1="536.10" y1="321.00" x2="536.10" y2="351.00" stroke-width="3.8" stroke-dasharray="5.7 2.35" stroke-dashoffset="0"/>
<line x1="277.00" y1="578.00" x2="277.00" y2="600.00" stroke-width="3.8" stroke-dasharray="5.6 2.4" stroke-dashoffset="0"/>
<line x1="212.05" y1="604.00" x2="345.90" y2="604.00" stroke-width="3.8" stroke-dasharray="5.75 2.28" stroke-dashoffset="0"/>
<line x1="213.95" y1="602.10" x2="213.95" y2="632.20" stroke-width="3.8" stroke-dasharray="5.72 2.32" stroke-dashoffset="0"/>
<line x1="343.97" y1="602.10" x2="343.97" y2="632.20" stroke-width="3.8" stroke-dasharray="5.72 2.32" stroke-dashoffset="0"/>
<line x1="526.00" y1="578.00" x2="526.00" y2="600.00" stroke-width="3.8" stroke-dasharray="5.6 2.4" stroke-dashoffset="0"/>
<line x1="461.05" y1="604.00" x2="594.90" y2="604.00" stroke-width="3.8" stroke-dasharray="5.75 2.28" stroke-dashoffset="0"/>
<line x1="462.95" y1="602.10" x2="462.95" y2="632.20" stroke-width="3.8" stroke-dasharray="5.72 2.32" stroke-dashoffset="0"/>
<line x1="592.97" y1="602.10" x2="592.97" y2="632.20" stroke-width="3.8" stroke-dasharray="5.72 2.32" stroke-dashoffset="0"/>
</g><g stroke="#48a3e4">
<line x1="406.05" y1="218.17" x2="406.05" y2="254.00" stroke-width="2.90" stroke-dasharray="4.70 3.33" stroke-dashoffset="-0.45"/>
<line x1="406.05" y1="284.70" x2="406.05" y2="320.20" stroke-width="2.90" stroke-dasharray="4.70 3.33" stroke-dashoffset="1.84"/>
<line x1="279.10" y1="322.90" x2="532.85" y2="322.90" stroke-width="2.90" stroke-dasharray="4.82 3.18" stroke-dashoffset="-0.45"/>
<line x1="276.05" y1="321.00" x2="276.05" y2="351.00" stroke-width="2.90" stroke-dasharray="4.80 3.25" stroke-dashoffset="-0.45"/>
<line x1="536.10" y1="321.00" x2="536.10" y2="351.00" stroke-width="2.90" stroke-dasharray="4.80 3.25" stroke-dashoffset="-0.45"/>
<line x1="277.00" y1="578.00" x2="277.00" y2="600.00" stroke-width="2.90" stroke-dasharray="4.70 3.30" stroke-dashoffset="-0.45"/>
<line x1="212.05" y1="604.00" x2="345.90" y2="604.00" stroke-width="2.90" stroke-dasharray="4.85 3.18" stroke-dashoffset="-0.45"/>
<line x1="213.95" y1="602.10" x2="213.95" y2="632.20" stroke-width="2.90" stroke-dasharray="4.82 3.22" stroke-dashoffset="-0.45"/>
<line x1="343.97" y1="602.10" x2="343.97" y2="632.20" stroke-width="2.90" stroke-dasharray="4.82 3.22" stroke-dashoffset="-0.45"/>
<line x1="526.00" y1="578.00" x2="526.00" y2="600.00" stroke-width="2.90" stroke-dasharray="4.70 3.30" stroke-dashoffset="-0.45"/>
<line x1="461.05" y1="604.00" x2="594.90" y2="604.00" stroke-width="2.90" stroke-dasharray="4.85 3.18" stroke-dashoffset="-0.45"/>
<line x1="462.95" y1="602.10" x2="462.95" y2="632.20" stroke-width="2.90" stroke-dasharray="4.82 3.22" stroke-dashoffset="-0.45"/>
<line x1="592.97" y1="602.10" x2="592.97" y2="632.20" stroke-width="2.90" stroke-dasharray="4.82 3.22" stroke-dashoffset="-0.45"/>
</g></g>
</svg>
</body></html>
